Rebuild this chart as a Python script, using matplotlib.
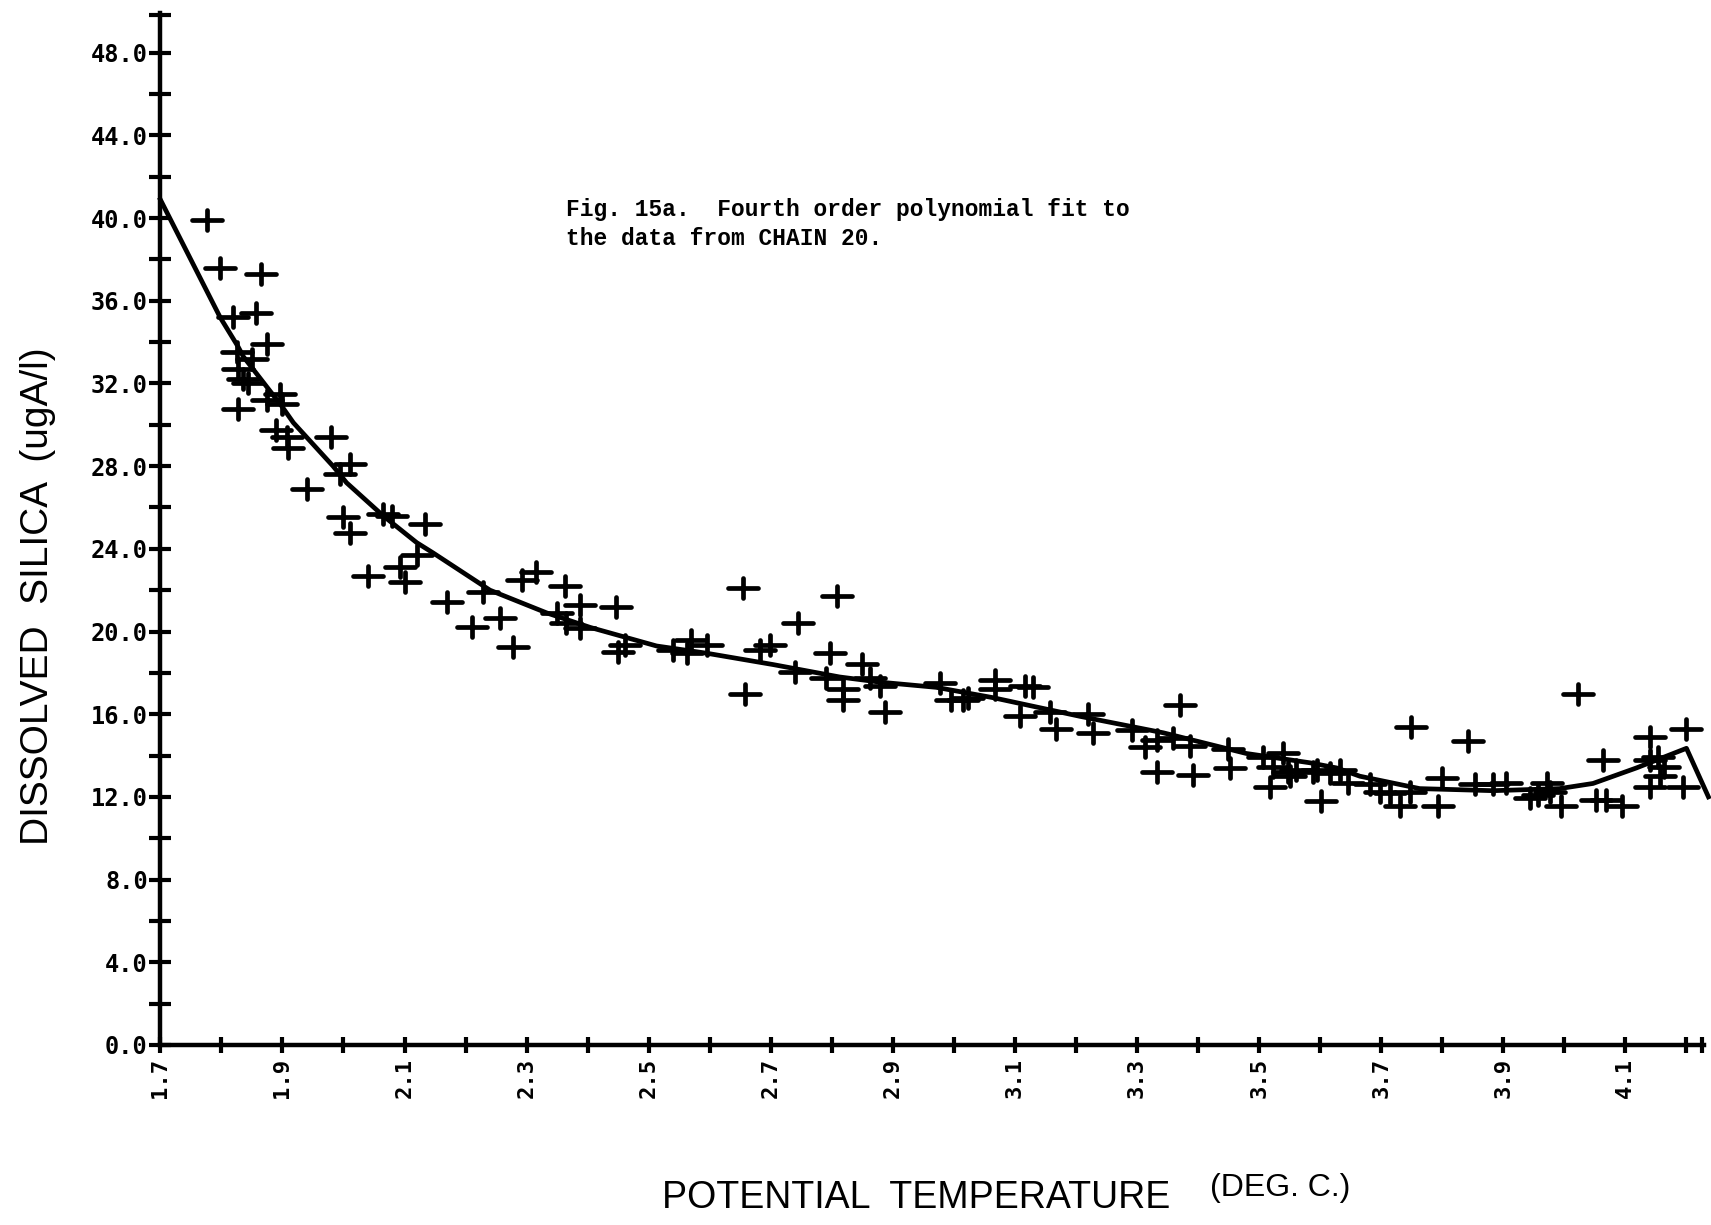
import matplotlib
matplotlib.use("Agg")
import matplotlib.pyplot as plt
from matplotlib.markers import MarkerStyle
from matplotlib.path import Path
from matplotlib.ticker import FixedLocator

# CHAIN 20 observations: potential temperature (deg C) vs dissolved silica
temp = [1.776, 1.798, 1.865, 1.819, 1.857, 1.874, 1.826, 1.850, 1.828, 1.836,
        1.844, 1.828, 1.896, 1.874, 1.900, 1.890, 1.907, 1.980, 1.909, 2.011,
        1.994, 1.940, 2.000, 2.065, 2.080, 2.133, 2.011, 2.120, 2.093, 2.100,
        2.040, 2.169, 2.229, 2.256, 2.210, 2.278, 2.292, 2.316, 2.363, 2.349,
        2.387, 2.365, 2.387, 2.447, 2.450, 2.461, 2.540, 2.562, 2.570, 2.595,
        2.655, 2.657, 2.682, 2.698, 2.745, 2.740, 2.808, 2.797, 2.791, 2.818,
        2.818, 2.849, 2.862, 2.879, 2.887, 2.977, 2.996, 3.015, 3.023, 3.067,
        3.067, 3.116, 3.130, 3.108, 3.157, 3.168, 3.220, 3.228, 3.291, 3.313,
        3.332, 3.359, 3.386, 3.370, 3.332, 3.392, 3.452, 3.449, 3.506, 3.523,
        3.539, 3.547, 3.561, 3.588, 3.616, 3.517, 3.550, 3.602, 3.594, 3.632,
        3.646, 3.681, 3.698, 3.714, 3.730, 3.747, 3.749, 3.799, 3.793, 3.842,
        3.853, 3.883, 3.905, 3.943, 3.957, 3.971, 3.976, 3.995, 4.022, 4.063,
        4.052, 4.069, 4.094, 4.140, 4.200, 4.140, 4.153, 4.164, 4.140, 4.156,
        4.194]
silica = [39.9, 37.6, 37.3, 35.2, 35.4, 33.9, 33.5, 33.2, 32.7, 32.2,
          32.0, 30.75, 31.5, 31.2, 31.0, 29.75, 29.4, 29.4, 28.9, 28.1,
          27.6, 26.9, 25.55, 25.7, 25.6, 25.2, 24.75, 23.7, 23.1, 22.4,
          22.7, 21.45, 21.9, 20.65, 20.2, 19.25, 22.5, 22.9, 22.2, 20.9,
          21.3, 20.4, 20.15, 21.2, 19.0, 19.35, 19.1, 18.95, 19.6, 19.35,
          22.1, 17.0, 19.1, 19.35, 20.4, 18.05, 21.7, 18.95, 17.75, 17.2,
          16.7, 18.45, 17.75, 17.35, 16.1, 17.5, 16.7, 16.7, 16.8, 17.65,
          17.2, 17.35, 17.3, 15.9, 16.1, 15.3, 16.0, 15.1, 15.25, 14.4,
          14.75, 14.85, 14.45, 16.45, 13.2, 13.05, 13.4, 14.3, 13.95, 13.45,
          14.1, 13.2, 13.3, 13.2, 13.15, 12.5, 13.0, 11.8, 13.3, 13.3,
          12.65, 12.6, 12.25, 12.2, 11.55, 12.25, 15.4, 12.9, 11.55, 14.7,
          12.6, 12.6, 12.65, 11.95, 12.1, 12.65, 12.25, 11.55, 17.0, 13.8,
          11.85, 11.85, 11.55, 14.9, 15.3, 13.8, 13.95, 13.45, 12.5, 13.0,
          12.5]

# fourth order polynomial fit as plotted
fit_temp = [1.700, 1.798, 1.827, 1.836, 1.899, 1.918, 1.983, 2.005, 2.065, 2.120,
            2.147, 2.240, 2.333, 2.404, 2.513, 2.595, 2.704, 2.813, 2.879, 2.971,
            3.064, 3.206, 3.343, 3.479, 3.583, 3.627, 3.665, 3.763, 3.883, 3.992,
            4.047, 4.118, 4.200, 4.236]
fit_silica = [40.9, 35.2, 33.8, 33.3, 30.9, 30.1, 28.0, 27.2, 25.6, 24.3,
              23.8, 22.0, 20.9, 20.2, 19.3, 18.95, 18.4, 17.8, 17.55, 17.3,
              16.8, 15.9, 15.1, 14.1, 13.65, 13.4, 13.0, 12.4, 12.3, 12.4,
              12.65, 13.4, 14.35, 12.0]

y_ticks = [0, 4, 8, 12, 16, 20, 24, 28, 32, 36, 40, 44, 48]
y_tick_labels = ['0.0', '4.0', '8.0', '12.0', '16.0', '20.0', '24.0',
                 '28.0', '32.0', '36.0', '40.0', '44.0', '48.0']
y_minor = [2, 6, 10, 14, 18, 22, 26, 30, 34, 38, 42, 46, 49.85]
x_ticks = [1.7, 1.9, 2.1, 2.3, 2.5, 2.7, 2.9, 3.1, 3.3, 3.5, 3.7, 3.9, 4.1]
x_tick_labels = ['1.7', '1.9', '2.1', '2.3', '2.5', '2.7', '2.9',
                 '3.1', '3.3', '3.5', '3.7', '3.9', '4.1']
x_minor = [1.8, 2.0, 2.2, 2.4, 2.6, 2.8, 3.0, 3.2, 3.4, 3.6, 3.8, 4.0, 4.2, 4.226]

fig = plt.figure(figsize=(17.11, 12.25), dpi=100)
ax = fig.add_axes([0.0937, 0.147, 0.9023, 0.842])

# wide plus sign with rounded ends
cross = Path([(-1.45, 0), (1.45, 0), (0, -1), (0, 1)],
             [Path.MOVETO, Path.LINETO, Path.MOVETO, Path.LINETO])
mk = MarkerStyle(cross, capstyle='round')

ax.plot(temp, silica, linestyle='none', marker=mk, ms=21, mew=3.4,
        mec='black', mfc='none', clip_on=False)
ax.plot(fit_temp, fit_silica, color='black', lw=3.4,
        solid_joinstyle='round', clip_on=False)

ax.set_xlim(1.7, 4.229)
ax.set_ylim(0, 49.9)

for side in ['top', 'right']:
    ax.spines[side].set_visible(False)
for side in ['left', 'bottom']:
    ax.spines[side].set_linewidth(3.2)

ax.yaxis.set_major_locator(FixedLocator(y_ticks))
ax.yaxis.set_minor_locator(FixedLocator(y_minor))
ax.xaxis.set_major_locator(FixedLocator(x_ticks))
ax.xaxis.set_minor_locator(FixedLocator(x_minor))

ax.set_yticklabels(y_tick_labels, fontfamily='DejaVu Sans Mono',
                   fontweight='bold', fontsize=17)
ax.set_xticklabels(x_tick_labels, fontfamily='DejaVu Sans Mono',
                   fontweight='bold', fontsize=16, rotation=90)

ax.tick_params(axis='y', which='both', direction='inout', length=16,
               width=3, pad=1)
ax.tick_params(axis='x', which='both', direction='inout', length=12,
               width=3, pad=3)

fig.text(0.022, 0.513, 'DISSOLVED  SILICA  (ugA/l)', rotation=90,
         family='Liberation Sans', fontsize=28, ha='center', va='center')
fig.text(0.5357, 0.022, 'POTENTIAL  TEMPERATURE', family='Liberation Sans',
         fontsize=27, ha='center', va='center')
fig.text(0.748, 0.030, '(DEG. C.)', family='Liberation Sans',
         fontsize=23, ha='center', va='center')

fig.text(0.331, 0.838, 'Fig. 15a.  Fourth order polynomial fit to\n'
         'the data from CHAIN 20.', family='Liberation Mono',
         fontweight='bold', fontsize=16.5, ha='left', va='top',
         linespacing=1.3)

fig.savefig('out.png', dpi=100)
